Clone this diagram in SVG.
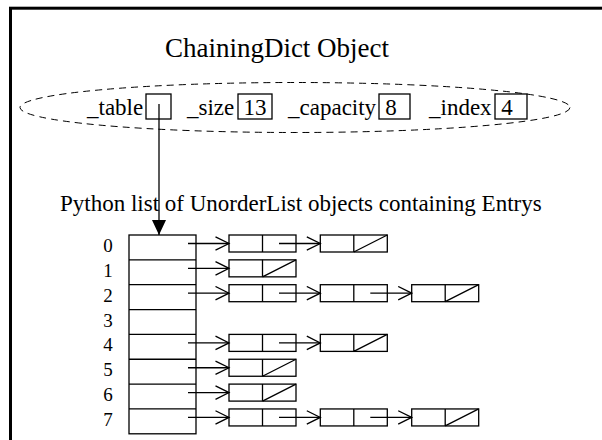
<svg xmlns="http://www.w3.org/2000/svg" width="602" height="440" viewBox="0 0 602 440">
  <style>
    text { font-family: "Liberation Serif", "Times New Roman", serif; fill: #000; }
    .title { font-size: 27px; }
    .lbl { font-size: 23px; }
    .idx { font-size: 19px; text-anchor: middle; }
    .num { font-size: 23px; text-anchor: middle; }
    .box { fill: #fff; stroke: #000; stroke-width: 1.3; }
    .ln { fill: none; stroke: #000; stroke-width: 1.3; }
    .ptr { fill: none; stroke: #000; stroke-width: 1.3; marker-end: url(#open); }
  </style>
  <defs>
    <marker id="open" markerUnits="userSpaceOnUse" markerWidth="16" markerHeight="16" viewBox="-1 -1 16 16" refX="13.5" refY="6.7" orient="auto">
      <path d="M0,0 L13.5,6.7 L0,13.4" fill="none" stroke="#000" stroke-width="1.3"/>
    </marker>
    <marker id="solid" markerUnits="userSpaceOnUse" markerWidth="16" markerHeight="16" viewBox="0 0 16 16" refX="15" refY="7" orient="auto">
      <path d="M0,0 L15,7 L0,14 Z" fill="#000"/>
    </marker>
  </defs>

  <rect width="602" height="440" fill="#fff"/>
  <!-- outer frame (runs off the right and bottom edges) -->
  <rect x="10.5" y="8.2" width="620" height="460" fill="none" stroke="#000" stroke-width="3"/>

  <!-- dictionary object -->
  <g id="dict">
    <text class="title" x="277" y="57" text-anchor="middle">ChainingDict Object</text>
    <ellipse cx="295" cy="107.5" rx="275" ry="25" fill="none" stroke="#000" stroke-width="1" stroke-dasharray="7 5"/>
    <text class="lbl" x="87" y="115">_table</text>
    <rect class="box" x="146" y="94" width="25" height="25"/>
    <text class="lbl" x="187" y="115">_size</text>
    <rect class="box" x="238" y="94" width="34" height="25"/>
    <text class="num" x="255" y="115">13</text>
    <text class="lbl" x="288" y="115">_capacity</text>
    <rect class="box" x="379" y="94" width="31" height="25"/>
    <text class="num" x="391" y="115">8</text>
    <text class="lbl" x="429" y="115">_index</text>
    <rect class="box" x="495" y="94" width="32" height="25"/>
    <text class="num" x="507" y="115">4</text>
  </g>

  <text class="lbl" x="60" y="211">Python list of UnorderList objects containing Entrys</text>

  <!-- bucket table -->
  <g id="table">
    <rect class="box" x="129" y="235" width="67" height="198.8"/>
    <path class="ln" d="M129,259.85H196 M129,284.7H196 M129,309.55H196 M129,334.4H196 M129,359.25H196 M129,384.1H196 M129,408.95H196"/>
    <text class="idx" x="108" y="252">0</text>
    <text class="idx" x="108" y="276.8">1</text>
    <text class="idx" x="108" y="301.7">2</text>
    <text class="idx" x="108" y="326.5">3</text>
    <text class="idx" x="108" y="351.4">4</text>
    <text class="idx" x="108" y="376.2">5</text>
    <text class="idx" x="108" y="401.1">6</text>
    <text class="idx" x="108" y="425.9">7</text>
  </g>

  <!-- chain nodes: [key | next], a slash marks a null next -->
  <g id="r0n0"><rect class="box" x="229" y="235" width="67" height="17"/><path class="ln" d="M262.5,235V252"/></g>
  <g id="r0n1"><rect class="box" x="320.3" y="235" width="67" height="17"/><path class="ln" d="M353.8,235V252 M353.8,252L387.3,235"/></g>

  <g id="r1n0"><rect class="box" x="229" y="259.85" width="67" height="17"/><path class="ln" d="M262.5,259.85V276.85 M262.5,276.85L296,259.85"/></g>

  <g id="r2n0"><rect class="box" x="229" y="284.7" width="67" height="17"/><path class="ln" d="M262.5,284.7V301.7"/></g>
  <g id="r2n1"><rect class="box" x="320.3" y="284.7" width="67" height="17"/><path class="ln" d="M353.8,284.7V301.7"/></g>
  <g id="r2n2"><rect class="box" x="411.7" y="284.7" width="67" height="17"/><path class="ln" d="M445.2,284.7V301.7 M445.2,301.7L478.7,284.7"/></g>

  <g id="r4n0"><rect class="box" x="229" y="334.4" width="67" height="17"/><path class="ln" d="M262.5,334.4V351.4"/></g>
  <g id="r4n1"><rect class="box" x="320.3" y="334.4" width="67" height="17"/><path class="ln" d="M353.8,334.4V351.4 M353.8,351.4L387.3,334.4"/></g>

  <g id="r5n0"><rect class="box" x="229" y="359.25" width="67" height="17"/><path class="ln" d="M262.5,359.25V376.25 M262.5,376.25L296,359.25"/></g>

  <g id="r6n0"><rect class="box" x="229" y="384.1" width="67" height="17"/><path class="ln" d="M262.5,384.1V401.1 M262.5,401.1L296,384.1"/></g>

  <g id="r7n0"><rect class="box" x="229" y="408.95" width="67" height="17"/><path class="ln" d="M262.5,408.95V425.95"/></g>
  <g id="r7n1"><rect class="box" x="320.3" y="408.95" width="67" height="17"/><path class="ln" d="M353.8,408.95V425.95"/></g>
  <g id="r7n2"><rect class="box" x="411.7" y="408.95" width="67" height="17"/><path class="ln" d="M445.2,408.95V425.95 M445.2,425.95L478.7,408.95"/></g>

  <!-- pointers -->
  <g id="connectors">
    <line x1="159" y1="104" x2="159" y2="235" stroke="#000" stroke-width="1.3" marker-end="url(#solid)"/>

    <line class="ptr" x1="188" y1="243.5" x2="229" y2="243.5"/>
    <line class="ptr" x1="279" y1="243.5" x2="320.3" y2="243.5"/>

    <line class="ptr" x1="188" y1="268.35" x2="229" y2="268.35"/>

    <line class="ptr" x1="188" y1="293.2" x2="229" y2="293.2"/>
    <line class="ptr" x1="279" y1="293.2" x2="320.3" y2="293.2"/>
    <line class="ptr" x1="370.3" y1="293.2" x2="411.7" y2="293.2"/>

    <line class="ptr" x1="188" y1="342.9" x2="229" y2="342.9"/>
    <line class="ptr" x1="279" y1="342.9" x2="320.3" y2="342.9"/>

    <line class="ptr" x1="188" y1="367.75" x2="229" y2="367.75"/>

    <line class="ptr" x1="188" y1="392.6" x2="229" y2="392.6"/>

    <line class="ptr" x1="188" y1="417.45" x2="229" y2="417.45"/>
    <line class="ptr" x1="279" y1="417.45" x2="320.3" y2="417.45"/>
    <line class="ptr" x1="370.3" y1="417.45" x2="411.7" y2="417.45"/>
  </g>
</svg>
